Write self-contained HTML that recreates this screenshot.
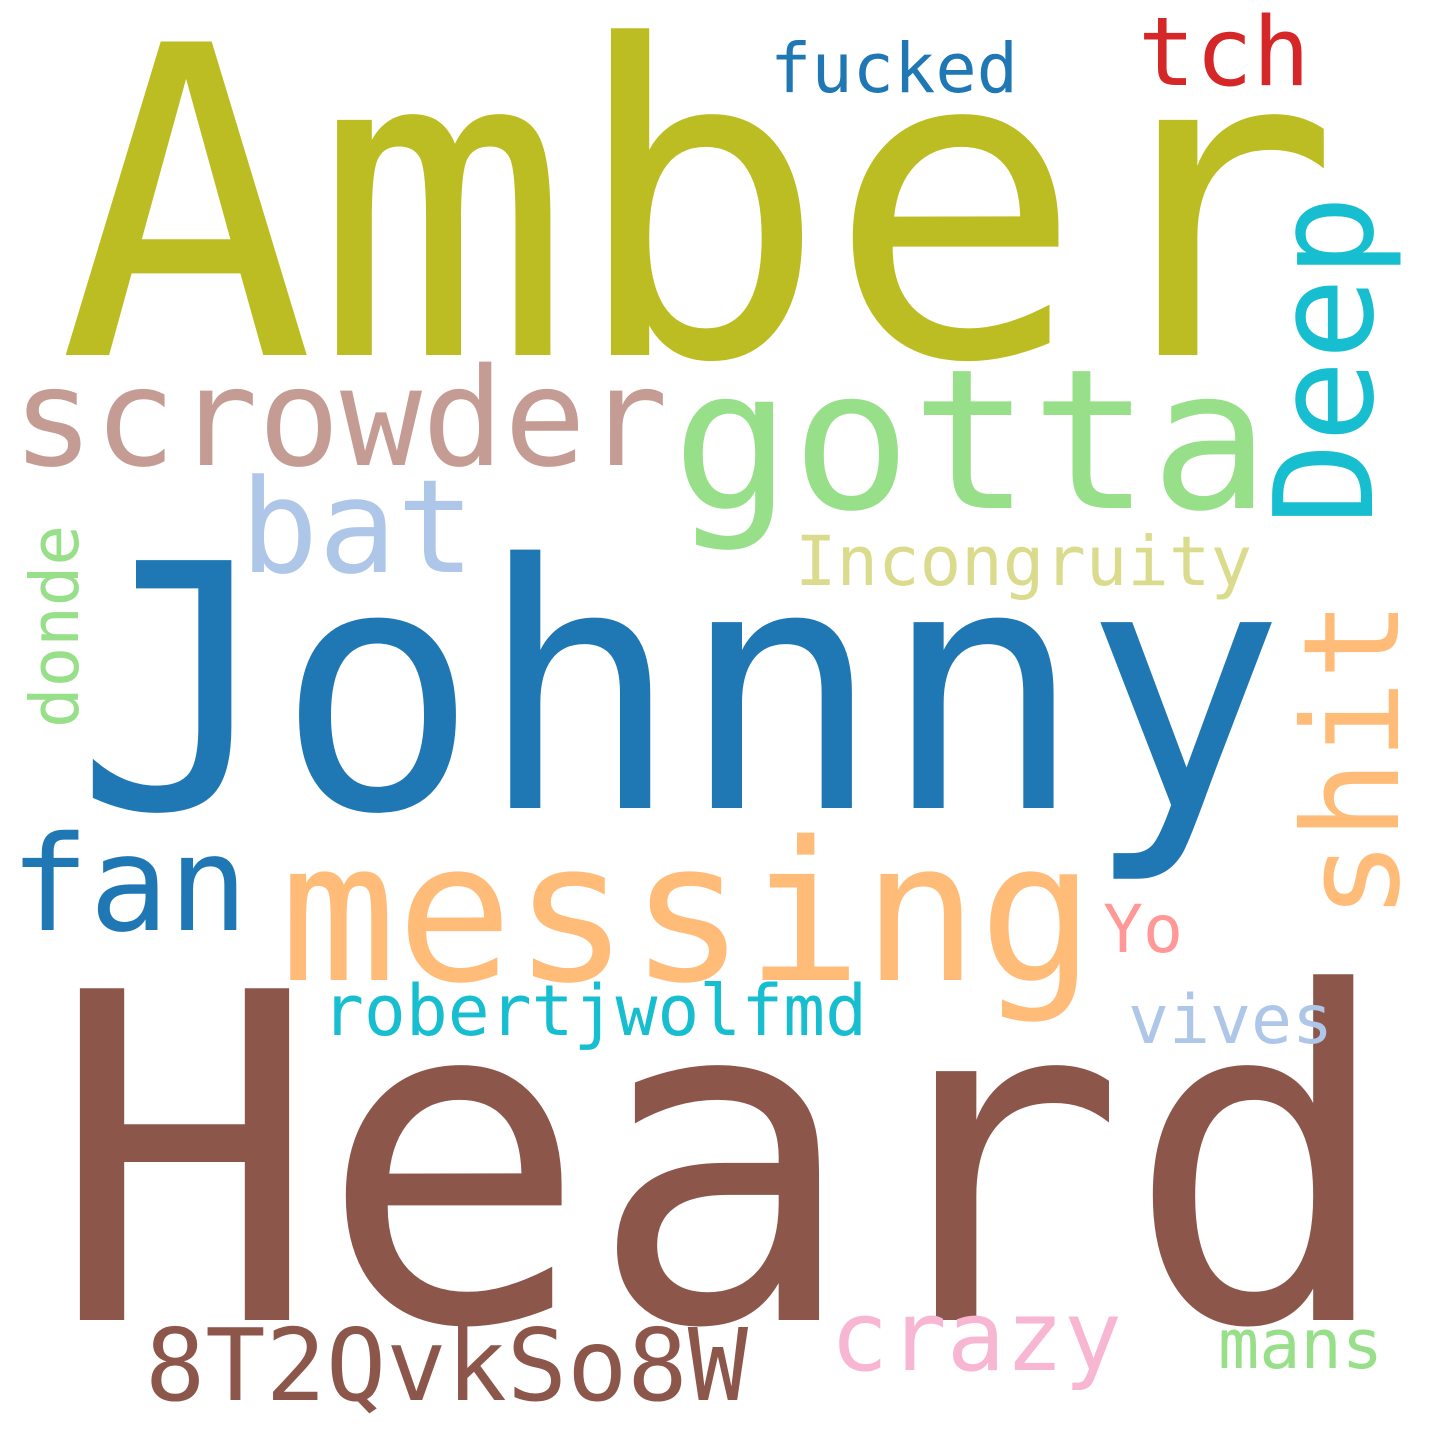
<!DOCTYPE html>
<html>
<head>
<meta charset="utf-8">
<style>
html,body{margin:0;padding:0;background:#fff;}
svg{display:block;}
text{font-family:"DejaVu Sans Mono","Liberation Mono",monospace;}
</style>
</head>
<body>
<svg id="cloud" width="1440" height="1440" viewBox="0 0 1440 1440">
<rect width="1440" height="1440" fill="#ffffff"/>
</svg>
<script>
const words = ["Amber","Johnny","Heard","scrowder","gotta","Deep","bat","tch","fucked","Incongruity","donde","shit","fan","messing","Yo","robertjwolfmd","vives","8T2QvkSo8W","crazy","mans"];
const sizes = [430,340,455,136,195,137,130,95,69,69,67,133,132,194,66,70,68,100,97,69];
const colors = ["#bcbd22","#1f77b4","#8c564b","#c49c94","#98df8a","#17becf","#aec7e8","#d62728","#1f77b4","#dbdb8d","#98df8a","#ffbb78","#1f77b4","#ffbb78","#ff9896","#17becf","#aec7e8","#8c564b","#f7b6d2","#98df8a"];
const anchorX = [58,75,50,12,672,1372,240,1138,770,795,78,1398,10,280,1103,322,1128,145,830,1218];
const anchorY = [355,808,1320,465,508,525,572,85,92,585,728,920,930,980,952,1035,1043,1400,1370,1368];
const spans = [1282,1210,1345,656,598,330,235,172,248,457,203,320,238,815,80,545,205,603,292,165];
const vertical = [0,0,0,0,0,1,0,0,0,0,1,1,0,0,0,0,0,0,0,0];
const svg = document.getElementById('cloud');
const NS = 'http://www.w3.org/2000/svg';
for (let i = 0; i < words.length; i++) {
  const t = document.createElementNS(NS, 'text');
  t.textContent = words[i];
  t.setAttribute('font-size', sizes[i]);
  t.setAttribute('fill', colors[i]);
  t.setAttribute('textLength', spans[i]);
  t.setAttribute('lengthAdjust', 'spacingAndGlyphs');
  if (vertical[i]) {
    t.setAttribute('transform', 'translate(' + anchorX[i] + ',' + anchorY[i] + ') rotate(-90)');
  } else {
    t.setAttribute('x', anchorX[i]);
    t.setAttribute('y', anchorY[i]);
  }
  
  
  svg.appendChild(t);
}
</script>
</body>
</html>
